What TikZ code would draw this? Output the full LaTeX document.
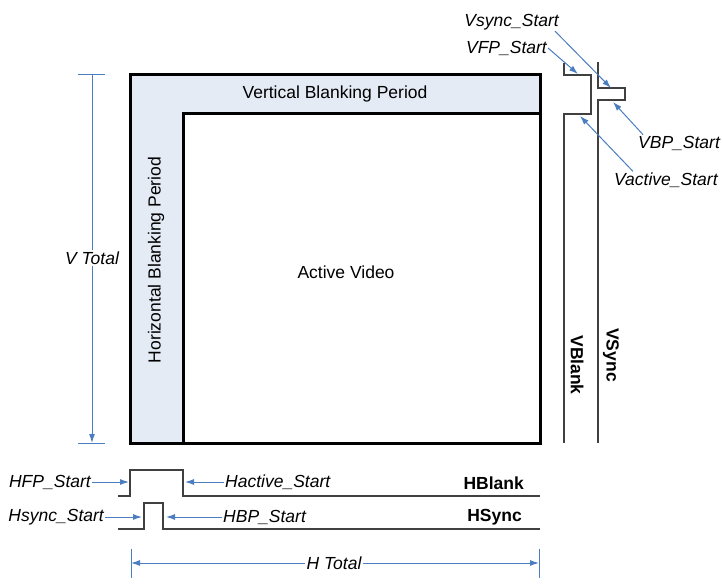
\documentclass[tikz,border=0pt]{standalone}
\usepackage{fontspec}
\setmainfont{Liberation Sans}
\usetikzlibrary{arrows.meta}
\definecolor{blankfill}{RGB}{228,235,245}
\definecolor{markblue}{RGB}{74,126,193}
\definecolor{sigline}{RGB}{64,64,64}
\newcommand\labelsize{\fontsize{17.5}{20}\selectfont}
\tikzset{
  mark arrow/.style={markblue, line width=1pt, -{Latex[length=9pt,width=6pt]}},
  mark line/.style={markblue, line width=1pt},
  tag/.style={font=\labelsize\itshape, inner sep=1pt},
  sig/.style={sigline, line width=1.6pt},
  signame/.style={font=\labelsize\bfseries, inner sep=1pt},
}
\begin{document}
\begin{tikzpicture}[x=1pt,y=-1pt,font=\labelsize]
\useasboundingbox (0,0) rectangle (723,585);

% frame
\fill[blankfill] (130,75) rectangle (540,443);
\draw[line width=3pt, fill=white] (183,114) rectangle (540,443);
\draw[line width=3pt] (130,75) rectangle (540,443);
\node (vbp) at (335,94) {Vertical Blanking Period};
\node[rotate=90] (hbp) at (156,260) {Horizontal Blanking Period};
\node (act) at (346,272) {Active Video};

% horizontal signals
\draw[sig] (118,496) -- (130,496) -- (130,470) -- (183,470) -- (183,496) -- (540,496);
\draw[sig] (118,529) -- (144,529) -- (144,503) -- (163,503) -- (163,529) -- (540,529);
\node[signame, anchor=east] (hblank) at (525,483) {HBlank};
\node[signame, anchor=east] (hsync) at (523,517) {HSync};

% vertical signals
\draw[sig] (564,63) -- (564,75) -- (591,75) -- (591,114) -- (564,114) -- (564,443);
\draw[sig] (598,62) -- (598,88) -- (625,88) -- (625,100) -- (598,100) -- (598,443);
\node[signame, rotate=-90] (vblank) at (577,365) {VBlank};
\node[signame, rotate=-90] (vsync) at (611,355) {VSync};

% horizontal markers
\node[tag, anchor=east] (hfp) at (92,482) {HFP\_Start};
\node[tag, anchor=west] (hact) at (224,482) {Hactive\_Start};
\node[tag, anchor=east] (hsy) at (105,517) {Hsync\_Start};
\node[tag, anchor=west] (hbps) at (222,517) {HBP\_Start};
\coordinate (hfpedge) at (129,482);
\coordinate (hactedge) at (185,482);
\coordinate (hsyedge) at (142,517);
\coordinate (hbpedge) at (166,517);
\draw[mark arrow] (hfp.east) -- (hfpedge);
\draw[mark arrow] (hact.west) -- (hactedge);
\draw[mark arrow] (hsy.east) -- (hsyedge);
\draw[mark arrow] (hbps.west) -- (hbpedge);

% vertical markers
\node[tag, anchor=east] (vss) at (560,22) {Vsync\_Start};
\node[tag, anchor=east] (vfp) at (548,48) {VFP\_Start};
\node[tag, anchor=west] (vbps) at (637,143) {VBP\_Start};
\node[tag, anchor=west] (vact) at (613,180) {Vactive\_Start};
\coordinate (vssedge) at (611,88);
\coordinate (vfpedge) at (578,74);
\coordinate (vbpedge) at (613,102);
\coordinate (vactedge) at (580,116);
\draw[mark arrow] ([xshift=-5pt]vss.south east) -- (vssedge);
\draw[mark arrow] (vfp.east) -- (vfpedge);
\draw[mark arrow] ([xshift=6pt]vbps.north west) -- (vbpedge);
\draw[mark arrow] ([xshift=20pt]vact.north west) -- (vactedge);

% totals
\node[tag] (vtot) at (92,258) {V Total};
\coordinate (vtop) at (92,75);
\coordinate (vbot) at (92,443);
\draw[mark line] (vtot.north) -- (vtop);
\draw[mark arrow] (vtot.south) -- (vbot);
\draw[mark line] ([xshift=-14pt]vtop) -- ([xshift=13pt]vtop);
\draw[mark line] ([xshift=-14pt]vbot) -- ([xshift=13pt]vbot);

\node[tag] (htot) at (334,563) {H Total};
\coordinate (hleft) at (131,563);
\coordinate (hright) at (539,563);
\draw[mark arrow] (htot.west) -- (hleft);
\draw[mark arrow] (htot.east) -- (hright);
\draw[mark line] ([yshift=-15pt]hleft) -- ([yshift=14pt]hleft);
\draw[mark line] ([yshift=-15pt]hright) -- ([yshift=14pt]hright);

\end{tikzpicture}
\end{document}
